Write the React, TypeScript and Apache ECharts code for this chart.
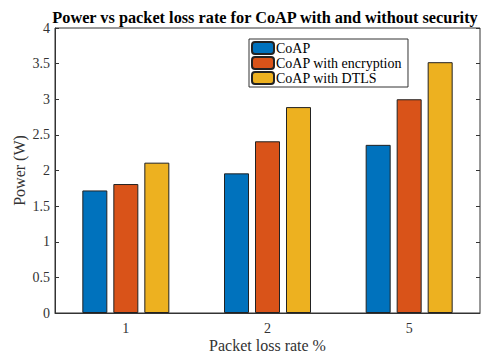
import React, { useEffect, useRef } from "react";
import * as echarts from "echarts";

const categories = ["1", "2", "5"];
const seriesNames = ["CoAP", "CoAP with encryption", "CoAP with DTLS"];
const coap = [1.72, 1.96, 2.36];
const coapEnc = [1.81, 2.41, 3.0];
const coapDtls = [2.11, 2.89, 3.52];
const colors = ["#0072BD", "#D95319", "#EDB120"];
const FONT = "'Liberation Serif', 'Times New Roman', serif";

export default function App() {
  const ref = useRef<HTMLDivElement>(null);
  useEffect(() => {
    document.body.style.margin = "0";
    if (!ref.current) return;
    const chart = echarts.init(ref.current, null, { renderer: "svg" });
    const values = [coap, coapEnc, coapDtls];
    chart.setOption({
      animation: false,
      title: {
        text: "Power vs packet loss rate for CoAP with and without security",
        left: 265,
        top: 9,
        padding: 0,
        textAlign: "center",
        textStyle: { fontFamily: FONT, fontSize: 16.3, fontWeight: "bold", color: "#000" },
      },
      legend: {
        data: seriesNames,
        orient: "vertical",
        left: 249,
        top: 39,
        itemWidth: 22,
        itemHeight: 12,
        itemGap: 1,
        padding: [2, 6, 2, 2],
        borderColor: "#333",
        borderWidth: 1,
        backgroundColor: "#fff",
        textStyle: { fontFamily: FONT, fontSize: 14, lineHeight: 13, color: "#000", padding: [0, 0, 0, -3] },
      },
      grid: {
        left: 55,
        right: 10,
        top: 28,
        bottom: 41,
        show: true,
        borderColor: "#333",
        borderWidth: 1,
        containLabel: false,
        outerBoundsMode: "none",
      },
      xAxis: [
        {
          type: "category",
          data: categories,
          name: "Packet loss rate %",
          nameLocation: "middle",
          nameGap: 24,
          nameMoveOverlap: false,
          nameTextStyle: { fontFamily: FONT, fontSize: 16, color: "#333" },
          axisLine: { lineStyle: { color: "#333" } },
          axisTick: { inside: true, alignWithLabel: true, length: 4, lineStyle: { color: "#333" } },
          axisLabel: { fontFamily: FONT, fontSize: 14, color: "#333", margin: 8 },
        },
        {
          type: "category",
          data: categories,
          position: "top",
          axisLine: { show: false },
          axisTick: { inside: true, alignWithLabel: true, length: 4, lineStyle: { color: "#333" } },
          axisLabel: { show: false },
        },
      ],
      yAxis: [
        {
          type: "value",
          min: 0,
          max: 4,
          interval: 0.5,
          name: "Power (W)",
          nameLocation: "middle",
          nameGap: 28,
          nameMoveOverlap: false,
          nameTextStyle: { fontFamily: FONT, fontSize: 16, color: "#333" },
          axisLine: { show: true, lineStyle: { color: "#333" } },
          axisTick: { show: true, inside: true, length: 4, lineStyle: { color: "#333" } },
          axisLabel: { fontFamily: FONT, fontSize: 14, color: "#333", margin: 5 },
          splitLine: { show: false },
        },
        {
          type: "value",
          min: 0,
          max: 4,
          interval: 0.5,
          position: "right",
          axisLine: { show: false },
          axisTick: { show: true, inside: true, length: 4, lineStyle: { color: "#333" } },
          axisLabel: { show: false },
          splitLine: { show: false },
        },
      ],
      series: seriesNames.map((name, i) => ({
        name,
        type: "bar",
        data: values[i],
        barWidth: 25,
        barGap: "24%",
        itemStyle: { color: colors[i], borderColor: "#222", borderWidth: 1 },
      })),
    });
    return () => chart.dispose();
  }, []);
  return <div ref={ref} style={{ width: 490, height: 354 }} />;
}
